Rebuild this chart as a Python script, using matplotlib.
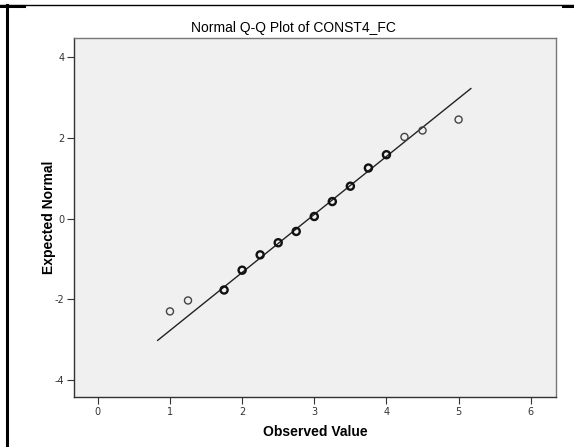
import matplotlib
matplotlib.use("Agg")
import matplotlib.pyplot as plt
from matplotlib.lines import Line2D
import numpy as np

plt.rcParams['axes.unicode_minus'] = False

observed = [1.0, 1.25, 1.75, 2.0, 2.25, 2.5, 2.75, 3.0, 3.25, 3.5, 3.75, 4.0, 4.25, 4.5, 5.0]
expected = [-2.30, -2.03, -1.77, -1.28, -0.90, -0.60, -0.32, 0.05, 0.42, 0.80, 1.25, 1.58, 2.02, 2.18, 2.45]
# darker circles = several cases on the same point
heavy = [False, False, True, True, True, True, True, True, True, True, True, True, False, False, False]

# reference line y = (x - mean) / sd
mean_val = 2.93
sd_val = 0.696
line_range = [0.83, 5.17]

xticks = [0, 1, 2, 3, 4, 5, 6]
yticks = [-4, -2, 0, 2, 4]

fig = plt.figure(figsize=(5.74, 4.47), dpi=100)
ax = fig.add_axes([74/574, 1 - 397/447, (556-74)/574, (397-38)/447])
ax.set_facecolor('#f0f0f0')

lx = np.array(line_range)
ax.plot(lx, (lx - mean_val) / sd_val, color='#222222', lw=1.0, zorder=2)

obs = np.array(observed)
exp = np.array(expected)
hv = np.array(heavy)
ax.scatter(obs[~hv], exp[~hv], s=26, facecolors='none', edgecolors='#444444', linewidths=1.0, zorder=3)
ax.scatter(obs[hv], exp[hv], s=26, facecolors='none', edgecolors='#111111', linewidths=1.7, zorder=3)

ax.set_xlim(-0.33, 6.35)
ax.set_ylim(-4.42, 4.47)
ax.set_xticks(xticks)
ax.set_yticks(yticks)
ax.tick_params(labelsize=7, colors='#333333', length=5, width=0.8, pad=2)
for s in ['left', 'bottom']:
    ax.spines[s].set_color('#333333')
    ax.spines[s].set_linewidth(1.0)
for s in ['top', 'right']:
    ax.spines[s].set_color('#777777')
    ax.spines[s].set_linewidth(1.0)

ax.set_title('Normal Q-Q Plot of CONST4_FC', fontsize=10, fontfamily='Liberation Sans', pad=4, x=0.455)
ax.set_xlabel('Observed Value', fontsize=10, fontweight='bold', fontfamily='Liberation Sans', labelpad=6)
ax.set_ylabel('Expected Normal', fontsize=10, fontweight='bold', fontfamily='Liberation Sans', labelpad=-1)

# black frame lines around the output cell
fig.add_artist(Line2D([0, 1], [1 - 5/447, 1 - 5/447], color='black', lw=1.0))
fig.add_artist(Line2D([7/574, 7/574], [0, 1 - 5/447], color='black', lw=2.2))
fig.add_artist(Line2D([0, 24/574], [1 - 5.5/447, 1 - 5.5/447], color='black', lw=2.2))
fig.add_artist(Line2D([563/574, 1], [1 - 5.5/447, 1 - 5.5/447], color='black', lw=2.2))

fig.savefig('out.png', dpi=100)
